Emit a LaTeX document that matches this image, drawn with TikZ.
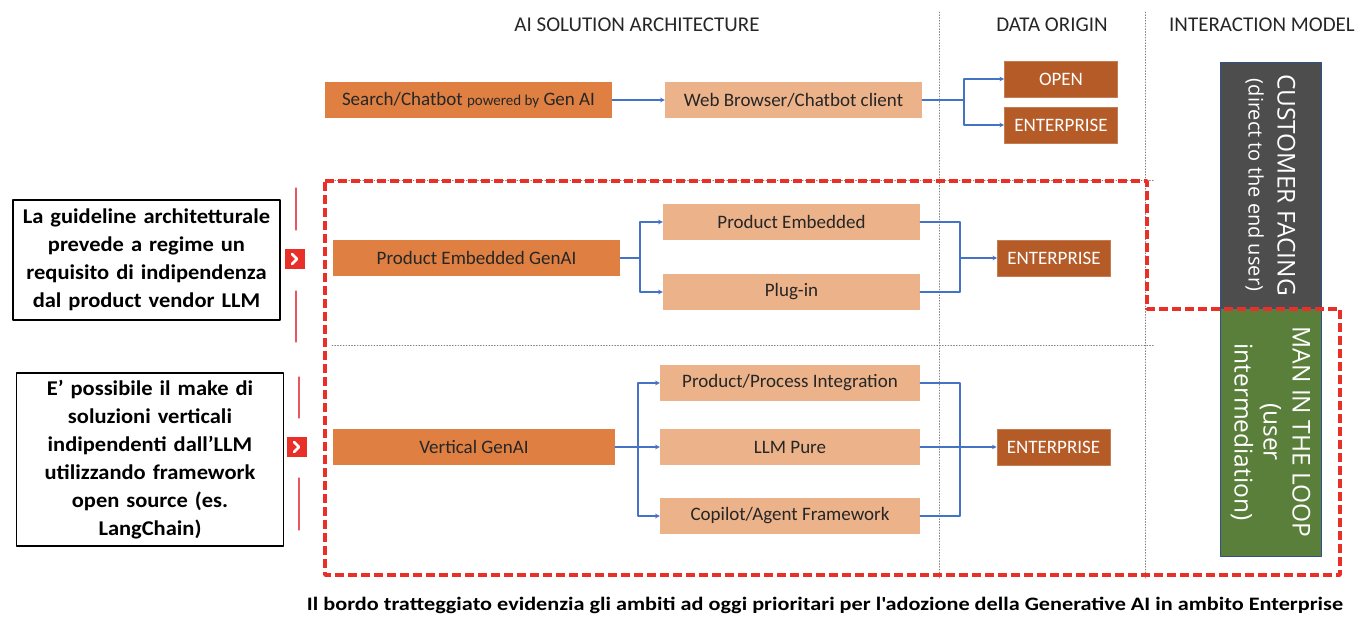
\documentclass[tikz,border=0pt]{standalone}
\usepackage{fontspec}
\setmainfont{Carlito}
\newfontfamily\notefont{Carlito}[FakeStretch=1.07]
\newfontfamily\capfont{Carlito}[FakeStretch=1.17]
\newfontfamily\modelfont{Open Sans}
\definecolor{orMain}{RGB}{223,128,66}
\definecolor{orLight}{RGB}{236,178,138}
\definecolor{orData}{RGB}{181,91,40}
\definecolor{boxGray}{RGB}{77,77,77}
\definecolor{boxGreen}{RGB}{90,127,58}
\definecolor{arrBlue}{RGB}{68,114,196}
\definecolor{dashRed}{RGB}{232,48,40}
\definecolor{pinkLine}{RGB}{232,86,96}
\definecolor{txtGray}{RGB}{38,38,38}
\begin{document}
\begin{tikzpicture}[>=stealth,x=1pt,y=-1pt,line cap=round,line join=round,
	box/.style={inner sep=0pt,minimum height=36pt,text=txtGray,font=\fontsize{19}{22}\selectfont},
	mainbox/.style={box,fill=orMain,minimum width=287pt},
	subbox/.style={box,fill=orLight,minimum width=257pt},
	databox/.style={box,fill=orData,draw=orData!80!white,line width=0.6pt,text=white,minimum width=113pt},
	modelbox/.style={rotate=-90,inner sep=0pt,minimum height=101pt,text=white,align=center,draw=arrBlue!70!black,line width=0.6pt,font=\modelfont\fontsize{24.5}{29}\selectfont},
	notebox/.style={draw,line width=1.2pt,text width=263pt,align=center,inner xsep=2pt,inner ysep=0pt,font=\notefont\bfseries\fontsize{21}{28}\selectfont},
	head/.style={font=\fontsize{21}{24}\selectfont,text=txtGray},
	conn/.style={->,draw=arrBlue,line width=1.1pt},
	link/.style={draw=arrBlue,line width=1.1pt},
	grid/.style={draw=gray,dotted,line width=0.8pt},
	chev/.style={fill=dashRed,inner sep=0pt,minimum size=20pt}]
	\useasboundingbox (0,0) rectangle (1363,617);
	% headers and grid
	\node[head] (hArch) at (637,25) {AI SOLUTION ARCHITECTURE};
	\node[head] (hData) at (1052,25) {DATA ORIGIN};
	\node[head] (hModel) at (1262,25) {INTERACTION MODEL};
	\foreach \x in {939,1145}{
			\draw[grid] (\x,12) -- (\x,578);%columns
		}
	\foreach \y in {180,345}{
			\draw[grid] (332,\y) -- (1155,\y);%rows
		}
	% row 1
	\node[mainbox] (search) at (468.5,100) {Search/Chatbot {\fontsize{15}{18}\selectfont powered by} Gen AI};
	\node[subbox] (web) at (793.5,100) {Web Browser/Chatbot client};
	\node[databox] (open) at (1061,79) {OPEN};
	\node[databox] (ent1) at (1061,125) {ENTERPRISE};
	\coordinate (br1) at (964,100);
	\draw[conn] (search) -- (web);
	\draw[conn] (web) -- (br1) |- (open);
	\draw[conn] (br1) |- (ent1);
	% row 2
	\node[mainbox] (peg) at (476.5,258) {Product Embedded GenAI};
	\node[subbox] (emb) at (791.5,222) {Product Embedded};
	\node[subbox] (plug) at (791.5,292) {Plug-in};
	\node[databox] (ent2) at (1054,258) {ENTERPRISE};
	\coordinate (br2) at (640,258);
	\coordinate (mg2) at (960,258);
	\draw[conn] (peg) -- (br2) |- (emb);
	\draw[conn] (br2) |- (plug);
	\draw[link] (emb) -| (mg2);
	\draw[link] (plug) -| (mg2);
	\draw[conn] (mg2) -- (ent2);
	% row 3
	\node[mainbox,minimum width=282pt] (vg) at (474,447) {Vertical GenAI};
	\node[subbox,minimum width=260pt] (ppi) at (790,383) {Product/Process Integration};
	\node[subbox,minimum width=260pt] (llm) at (790,447) {LLM Pure};
	\node[subbox,minimum width=260pt] (cop) at (790,516) {Copilot/Agent Framework};
	\node[databox] (ent3) at (1053.5,447) {ENTERPRISE};
	\coordinate (br3) at (638,447);
	\coordinate (mg3) at (960,447);
	\draw[conn] (vg) -- (llm);
	\draw[conn] (br3) |- (ppi);
	\draw[conn] (br3) |- (cop);
	\draw[link] (ppi) -| (mg3);
	\draw[link] (cop) -| (mg3);
	\draw[conn] (llm) -- (ent3);
	% interaction model
	\node[modelbox,fill=boxGray,minimum width=246pt] (cust) at (1270.5,185) {CUSTOMER FACING\\{\fontsize{20}{26}\selectfont(direct to the end user)}};
	\node[modelbox,fill=boxGreen,minimum width=248pt] (loop) at (1270.5,432) {MAN IN THE LOOP\\(user\\intermediation)};
	% priority border
	\draw[dashRed,line width=3.5pt,line cap=butt,dash pattern=on 9pt off 4pt] (325,181) -- (1147,181) -- (1147,309) -- (1340,309) -- (1340,575) -- (325,575) -- cycle;
	% notes
	\node[notebox,minimum height=120pt] (note1) at (146.5,260) {La guideline architetturale\\prevede a regime un\\requisito di indipendenza\\dal product vendor LLM};
	\node[notebox,minimum height=173pt] (note2) at (150,459.5) {E’ possibile il make di\\soluzioni verticali\\indipendenti dall’LLM\\utilizzando framework\\open source (es.\\LangChain)};
	\foreach \n/\x/\y in {1/295/259,2/297/447}{
			\node[chev] (chev\n) at (\x,\y) {};
			\draw[white,line width=2.6pt] (chev\n.center) ++(-3,-5) -- ++(5,5) -- ++(-5,5);
		}
	\foreach \x/\a/\b in {296/188/230,296/291/342,299/377/418,299/478/530}{
			\draw[pinkLine,line width=1.3pt] (\x,\a) -- (\x,\b);
		}
	\node[font=\capfont\bfseries\fontsize{19}{22}\selectfont] (caption) at (825,605) {Il bordo tratteggiato evidenzia gli ambiti ad oggi prioritari per l\textquotesingle adozione della Generative AI in ambito Enterprise};
\end{tikzpicture}
\end{document}
